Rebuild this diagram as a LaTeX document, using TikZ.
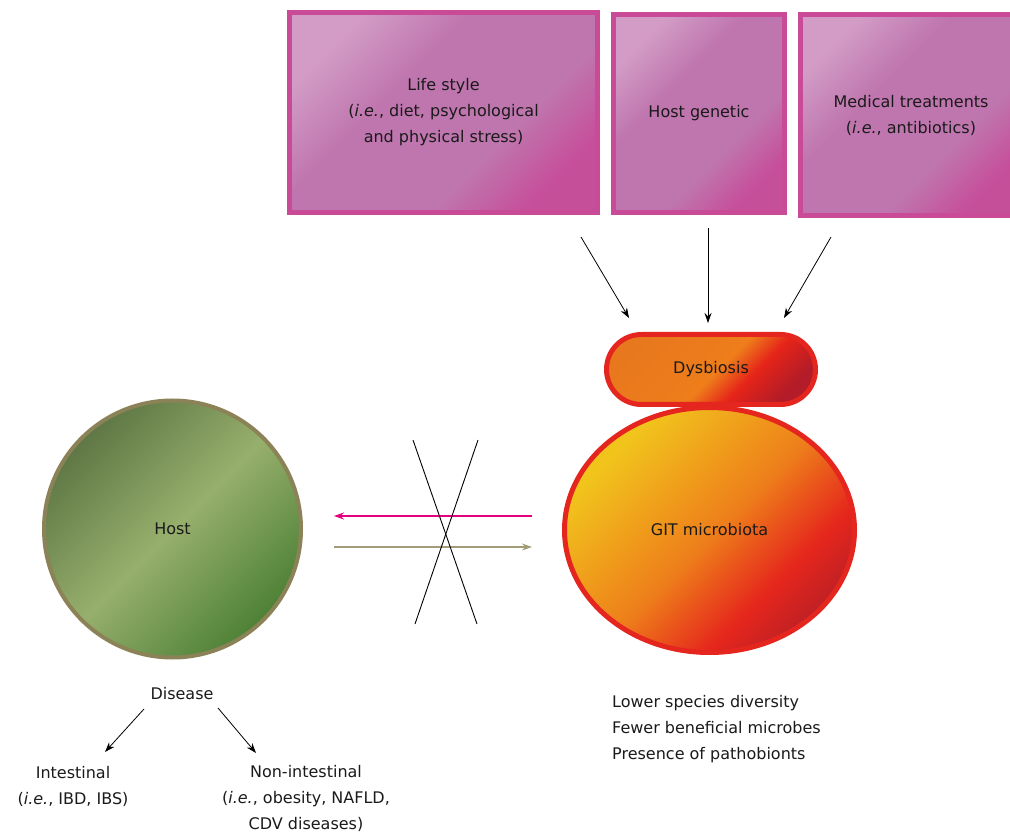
\documentclass[tikz,border=0pt]{standalone}
\usepackage{fontspec}
\setmainfont{DejaVu Sans}
\usetikzlibrary{arrows.meta,positioning,shapes.geometric}
\definecolor{ink}{HTML}{1A1A1A}
\definecolor{plumline}{HTML}{C94B97}
\definecolor{plumlight}{HTML}{D29CC6}
\definecolor{plummid}{HTML}{BF76AE}
\definecolor{plumdark}{HTML}{C64F9A}
\definecolor{redline}{HTML}{E4261F}
\definecolor{dysA}{HTML}{E8781E}
\definecolor{dysB}{HTML}{EE7D1A}
\definecolor{dysC}{HTML}{E52419}
\definecolor{dysD}{HTML}{B31C28}
\definecolor{gitA}{HTML}{F1C41C}
\definecolor{gitB}{HTML}{EE7E1B}
\definecolor{gitC}{HTML}{E5261C}
\definecolor{gitD}{HTML}{B81F27}
\definecolor{oliveline}{HTML}{8B8357}
\definecolor{hostA}{HTML}{5E7745}
\definecolor{hostB}{HTML}{97AF6C}
\definecolor{hostC}{HTML}{4D8136}
\definecolor{pinkarrow}{HTML}{E5007D}
\definecolor{olivearrow}{HTML}{A39C78}

\pgfdeclarehorizontalshading{plumshade}{100bp}{color(0bp)=(plumlight); color(25bp)=(plumlight);
  color(40bp)=(plummid); color(62bp)=(plummid); color(75bp)=(plumdark); color(100bp)=(plumdark)}
\pgfdeclarehorizontalshading{dysshade}{100bp}{color(0bp)=(dysA); color(25bp)=(dysA);
  color(52bp)=(dysB); color(62bp)=(dysC); color(75bp)=(dysD); color(100bp)=(dysD)}
\pgfdeclarehorizontalshading{gitshade}{100bp}{color(0bp)=(gitA); color(27bp)=(gitA);
  color(51bp)=(gitB); color(66bp)=(gitC); color(77bp)=(gitD); color(100bp)=(gitD)}
\pgfdeclarehorizontalshading{hostshade}{100bp}{color(0bp)=(hostA); color(25bp)=(hostA);
  color(50bp)=(hostB); color(75bp)=(hostC); color(100bp)=(hostC)}

\begin{document}
\begin{tikzpicture}[
  x=1pt,y=-1pt,
  txt/.style={font=\fontsize{16}{26}\selectfont,text=ink,align=center,inner sep=0pt},
  factor/.style={txt,draw=plumline,line width=5pt,shading=plumshade,shading angle=-45},
  dysbox/.style={txt,draw=redline,line width=5pt,rounded corners=35pt,
                 shading=dysshade,shading angle=-45},
  gitnode/.style={txt,ellipse,draw=redline,line width=5pt,shading=gitshade,shading angle=-45},
  hostnode/.style={txt,circle,draw=oliveline,line width=4pt,shading=hostshade,shading angle=-45},
  arr/.style={-{Stealth[length=10pt,width=7pt]},draw=black,line width=0.8pt},
  cross/.style={draw=black,line width=0.9pt}
]
\useasboundingbox (0,0) rectangle (1010,834);

% influencing factors
\node[factor,minimum width=308pt,minimum height=200pt] (life) at (443.5,112.5)
  {Life style\\(\textit{i.e.}, diet, psychological\\and physical stress)};
\node[factor,minimum width=171pt,minimum height=198pt] (gene) at (699,113.5)
  {Host genetic};
\node[factor,minimum width=222pt,minimum height=201pt] (med) at (911,115)
  {Medical treatments\\(\textit{i.e.}, antibiotics)};

% microbiota side
\node[dysbox,minimum width=209pt,minimum height=70pt] (dys) at (711,369.5) {Dysbiosis};
\node[gitnode,minimum width=290pt,minimum height=245pt] (git) at (709.5,530) {GIT microbiota};
\node[txt,align=left,anchor=west] (feat) at (612,729.5)
  {Lower species diversity\\Fewer beneficial microbes\\Presence of pathobionts};

% host side
\node[hostnode,minimum size=257pt] (host) at (172.5,529) {Host};
\node[txt] (dis) at (182,694) {Disease};
\node[txt] (intest) at (73,786) {Intestinal\\(\textit{i.e.}, IBD, IBS)};
\node[txt] (nonint) at (306,798.5) {Non-intestinal\\(\textit{i.e.}, obesity, NAFLD,\\CDV diseases)};

% arrow ends
\coordinate (lifeout) at (581,237);  \coordinate (lifein) at (629,318);
\coordinate (geneout) at (708,228);  \coordinate (genein) at (708,323);
\coordinate (medout) at (831,237);   \coordinate (medin) at (784,318);
\coordinate (gitleft) at (532,516);  \coordinate (hostright) at (334,516);
\coordinate (hostout) at (334,547);  \coordinate (gitin) at (532,547);
\coordinate (disL) at (144,709);     \coordinate (intestin) at (105,752);
\coordinate (disR) at (218,708);     \coordinate (nonintin) at (256,753);

\draw[arr] (lifeout) -- (lifein);
\draw[arr] (geneout) -- (genein);
\draw[arr] (medout) -- (medin);

\draw[arr,draw=pinkarrow,line width=1.2pt] (gitleft) -- (hostright);
\draw[arr,draw=olivearrow,line width=1.2pt] (hostout) -- (gitin);
\draw[cross] (413,440) -- (477,624);
\draw[cross] (478,440) -- (415,624);

\draw[arr] (disL) -- (intestin);
\draw[arr] (disR) -- (nonintin);
\end{tikzpicture}
\end{document}
